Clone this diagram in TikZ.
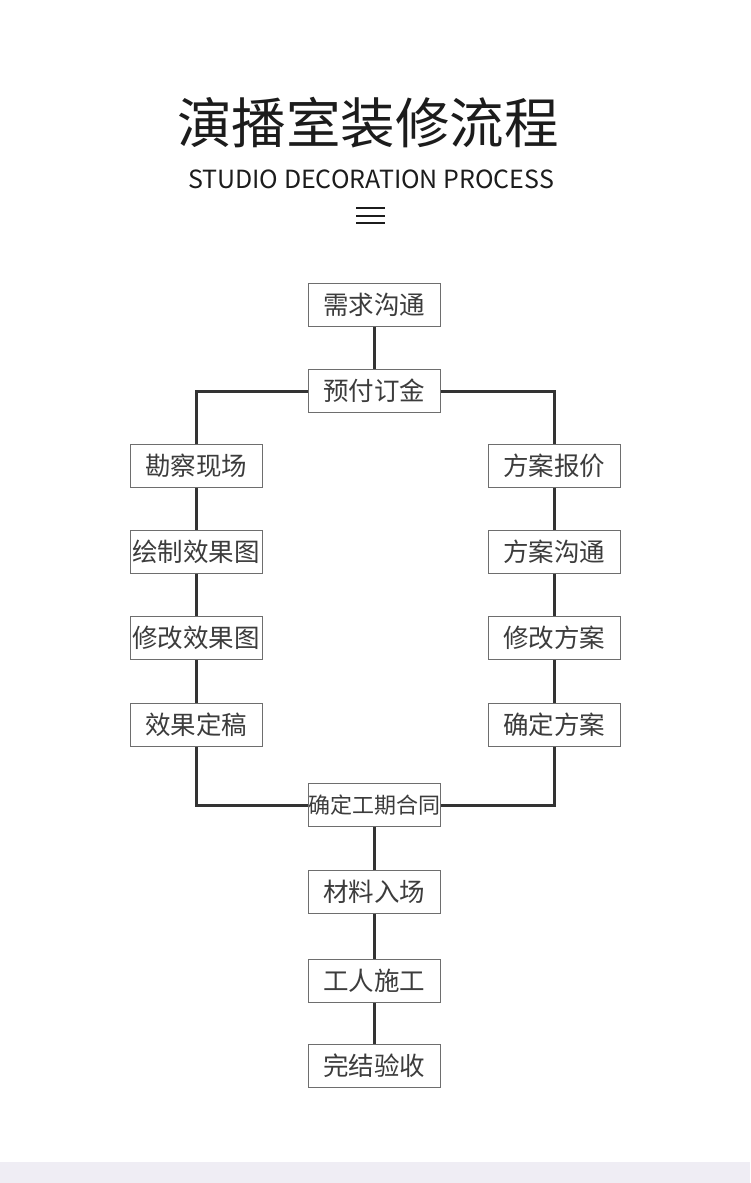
\documentclass[tikz,border=0pt]{standalone}
\usepackage{fontspec}
\setmainfont{Noto Sans CJK SC}
\usepackage{tikz}
\definecolor{linegray}{HTML}{333333}
\definecolor{boxgray}{HTML}{6E6E6E}
\definecolor{textgray}{HTML}{3C3C3C}
\definecolor{titleblack}{HTML}{1C1C1C}
\definecolor{bandlilac}{HTML}{EFEDF4}
\tikzset{
    stage/.style={shape=rectangle, draw=boxgray, line width=1pt, fill=white,
        minimum width=132pt, minimum height=43pt, inner sep=0pt,
        text=textgray, font=\fontsize{25.5}{25.5}\selectfont},
    link/.style={draw=linegray, line width=3pt}
}

\begin{document}
\begin{tikzpicture}[x=1pt, y=-1pt]

    \useasboundingbox (0,0) rectangle (750,1183);
    \fill[white] (0,0) rectangle (750,1183);
    \fill[bandlilac] (0,1162) rectangle (750,1183);

    % heading
    \node[text=titleblack, font=\fontsize{54.5}{54.5}\selectfont] (T) at (368,123) {演播室装修流程};
    \node[text=titleblack, font=\fontsize{25}{25}\selectfont] (S) at (371,179) {STUDIO DECORATION PROCESS};
    \foreach \y in {208,216,223}
        \draw[titleblack, line width=1.6pt] (356,\y) -- (385,\y);

    % steps
    \node[stage] (A) at (374,305) {需求沟通};
    \node[stage] (B) at (374,391) {预付订金};
    \node[stage] (C) at (196,466) {勘察现场};
    \node[stage] (D) at (196,552) {绘制效果图};
    \node[stage] (E) at (196,638) {修改效果图};
    \node[stage] (F) at (196,725) {效果定稿};
    \node[stage] (G) at (554,466) {方案报价};
    \node[stage] (H) at (554,552) {方案沟通};
    \node[stage] (I) at (554,638) {修改方案};
    \node[stage] (J) at (554,725) {确定方案};
    \node[stage, font=\fontsize{22}{22}\selectfont] (K) at (374,805) {确定工期合同};
    \node[stage] (L) at (374,892) {材料入场};
    \node[stage] (M) at (374,981) {工人施工};
    \node[stage] (N) at (374,1066) {完结验收};

    \draw[link] (A) -- (B);
    \draw[link] (B.west) -| (C.north);
    \draw[link] (B.east) -| (G.north);
    \draw[link] (C) -- (D);
    \draw[link] (D) -- (E);
    \draw[link] (E) -- (F);
    \draw[link] (G) -- (H);
    \draw[link] (H) -- (I);
    \draw[link] (I) -- (J);
    \draw[link] (F.south) |- (K.west);
    \draw[link] (J.south) |- (K.east);
    \draw[link] (K) -- (L);
    \draw[link] (L) -- (M);
    \draw[link] (M) -- (N);

\end{tikzpicture}
\end{document}
